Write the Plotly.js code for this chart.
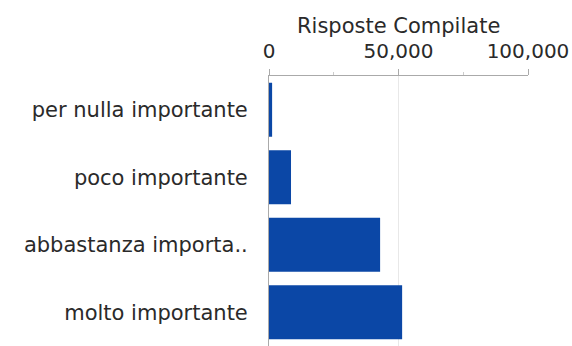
<!DOCTYPE html>
<html>
<head>
<meta charset="utf-8">
<script src="https://cdn.plot.ly/plotly-3.0.1.min.js"></script>
<style>html,body{margin:0;padding:0;background:#fff;}</style>
</head>
<body>
<div id="chart" style="width:572px;height:346px;"></div>
<script>
const categories = ["per nulla importante", "poco importante", "abbastanza importa..", "molto importante"];
const responses = [1200, 8500, 42900, 51400];
const xTickValues = [0, 50000, 100000];
const xTickLabels = ["0", "50,000", "100,000"];
const xTitle = "Risposte Compilate";

const trace = {
  type: 'bar',
  orientation: 'h',
  y: categories,
  x: responses,
  marker: {color: '#0b47a6'},
  hoverinfo: 'x+y'
};

const layout = {
  width: 572,
  height: 346,
  margin: {l: 269, r: 44, t: 76, b: 0, pad: 0},
  paper_bgcolor: '#ffffff',
  plot_bgcolor: '#ffffff',
  font: {family: 'DejaVu Sans, sans-serif', color: '#2a2a2a', size: 21},
  bargap: 0.2,
  showlegend: false,
  xaxis: {
    side: 'top',
    range: [0, 100000],
    tickvals: xTickValues,
    ticktext: xTickLabels,
    ticks: 'outside',
    ticklen: 6,
    tickcolor: '#aaaaaa',
    tickfont: {size: 20, color: '#2a2a2a'},
    ticklabelstandoff: 3,
    showline: true,
    linecolor: '#aaaaaa',
    linewidth: 1,
    showgrid: true,
    gridcolor: '#e8e8e8',
    zeroline: false,
    minor: {dtick: 25000, tick0: 0, ticks: 'outside', ticklen: 3, tickcolor: '#cccccc', showgrid: false},
    fixedrange: true
  },
  yaxis: {
    type: 'category',
    categoryorder: 'array',
    categoryarray: categories,
    autorange: 'reversed',
    showline: true,
    linecolor: '#aaaaaa',
    linewidth: 1,
    ticks: 'outside',
    ticklen: 16,
    tickcolor: 'rgba(0,0,0,0)',
    tickfont: {size: 21, color: '#2a2a2a'},
    showgrid: false,
    zeroline: false,
    fixedrange: true
  },
  annotations: [{
    text: xTitle,
    xref: 'paper', yref: 'paper',
    x: 0.5, y: 1,
    xanchor: 'center', yanchor: 'middle',
    yshift: 50,
    showarrow: false,
    font: {size: 21, color: '#2a2a2a'}
  }]
};

Plotly.newPlot('chart', [trace], layout, {displayModeBar: false, staticPlot: true});
</script>
</body>
</html>
